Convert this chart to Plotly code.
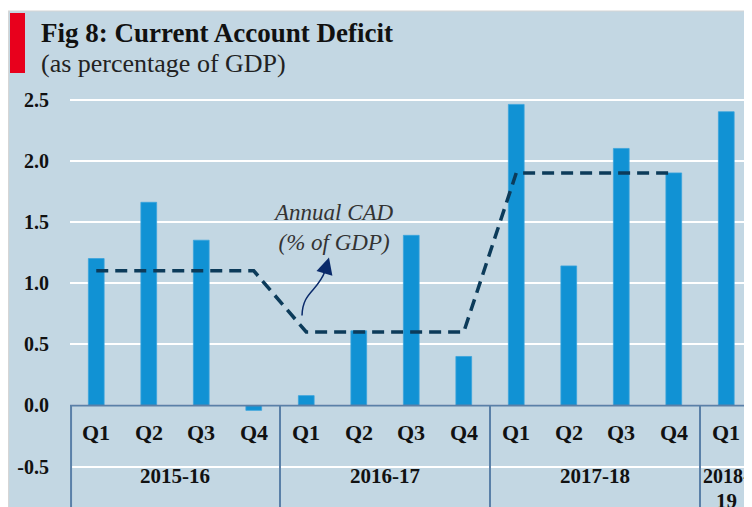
import plotly.graph_objects as go

# ---- data ----
quarters = ["Q1", "Q2", "Q3", "Q4", "Q1", "Q2", "Q3", "Q4", "Q1", "Q2", "Q3", "Q4", "Q1"]
years = ["2015-16", "2016-17", "2017-18", "2018-19"]
year_quarter_counts = [4, 4, 4, 1]
quarterly_cad = [1.20, 1.66, 1.35, -0.04, 0.08, 0.61, 1.39, 0.40, 2.46, 1.14, 2.10, 1.90, 2.40]
annual_cad = [1.1, 1.1, 1.1, 1.1, 0.6, 0.6, 0.6, 0.6, 1.9, 1.9, 1.9, 1.9]
y_ticks = [-0.5, 0.0, 0.5, 1.0, 1.5, 2.0, 2.5]

FONT = "Liberation Serif"
BG = "#c3d7e3"
BAR = "#1192d4"
LINE = "#0c3b5a"
AXIS = "#5a80a8"

OFF = 8  # page body margin
W, H = 760, 499
ML, MR, MT = 62, 16, 86
Y0, Y1 = -0.83, 2.545
X0, X1 = -0.5, 12.49

PW = W - ML - MR

def px_x(px):  # page px -> paper
    return (px - OFF - ML) / PW

def px_y(py):
    return (H - (py - OFF)) / (H - MT)

xs = list(range(len(quarters)))

fig = go.Figure()
fig.add_trace(go.Bar(
    x=xs, y=quarterly_cad, width=0.3,
    marker=dict(color=BAR, line=dict(color="#3aa3dc", width=0.8)),
    hoverinfo="y", showlegend=False,
))
fig.add_trace(go.Scatter(
    x=xs[:len(annual_cad)], y=annual_cad, mode="lines",
    line=dict(color=LINE, width=3.5, dash="12px,7px"),
    showlegend=False,
))

shapes = []
shapes.append(dict(type="rect", xref="paper", yref="paper",
                   x0=px_x(8.5), x1=1.05, y0=-0.02, y1=px_y(11),
                   fillcolor=BG, line=dict(color="#d6d6d6", width=1.2), layer="below"))
shapes.append(dict(type="rect", xref="paper", yref="paper",
                   x0=px_x(10), x1=px_x(25), y0=px_y(73), y1=px_y(13),
                   fillcolor="#e8001c", line=dict(width=0), layer="above"))
shapes.append(dict(type="line", xref="x", yref="y", x0=X0, x1=X1, y0=0, y1=0,
                   line=dict(color=AXIS, width=2), layer="above"))
bounds = [-0.5]
for c in year_quarter_counts:
    bounds.append(bounds[-1] + c)
for i, b in enumerate(bounds[:-1]):
    xb = -0.48 if i == 0 else b
    shapes.append(dict(type="line", xref="x", yref="y", x0=xb, x1=xb, y0=0, y1=Y0,
                       line=dict(color=AXIS, width=2), layer="above"))
shapes.append(dict(type="path", xref="x", yref="y",
                   path="M 3.919,0.735 C 3.93,0.93 4.22,0.93 4.36,1.10",
                   line=dict(color="#0a2a6a", width=1.5), layer="above"))

annotations = []
annotations.append(dict(text="<b>Fig 8: Current Account Deficit</b>", xref="paper", yref="paper",
                        x=px_x(39), y=px_y(33), xanchor="left", yanchor="middle", showarrow=False,
                        font=dict(family=FONT, size=27, color="#111111")))
annotations.append(dict(text="(as percentage of GDP)", xref="paper", yref="paper",
                        x=px_x(39), y=px_y(63), xanchor="left", yanchor="middle", showarrow=False,
                        font=dict(family=FONT, size=26, color="#222222")))
for i, q in enumerate(quarters):
    annotations.append(dict(text=f"<b>{q}</b>", x=i, y=-0.22, xref="x", yref="y",
                            showarrow=False, yanchor="middle",
                            font=dict(family=FONT, size=22, color="#111111")))
for j, yr in enumerate(years):
    center = (bounds[j] + bounds[j + 1]) / 2
    if year_quarter_counts[j] == 1:
        parts = [yr[:5], yr[5:]]
        annotations.append(dict(text=f"<b>{parts[0]}</b>", x=bounds[j] + 0.01, y=-0.58,
                                xref="x", yref="y", xanchor="left",
                                showarrow=False, yanchor="middle",
                                font=dict(family=FONT, size=20, color="#111111")))
        annotations.append(dict(text=f"<b>{parts[1]}</b>", x=center, y=-0.78, xref="x", yref="y",
                                showarrow=False, yanchor="middle",
                                font=dict(family=FONT, size=21, color="#111111")))
    else:
        annotations.append(dict(text=f"<b>{yr}</b>", x=center, y=-0.58, xref="x", yref="y",
                                showarrow=False, yanchor="middle",
                                font=dict(family=FONT, size=21, color="#111111")))
annotations.append(dict(text="<i>Annual CAD<br>(% of GDP)</i>", x=4.51, y=1.454, xref="x", yref="y",
                        showarrow=False, align="center",
                        font=dict(family=FONT, size=23, color="#333333")))
annotations.append(dict(text="", x=4.433, y=1.209, ax=4.36, ay=1.10, xref="x", yref="y",
                        axref="x", ayref="y", showarrow=True, arrowhead=2, arrowsize=2.2,
                        arrowwidth=1.5, arrowcolor="#0a2a6a"))

fig.update_layout(
    width=W, height=H,
    margin=dict(l=ML, r=MR, t=MT, b=0, pad=0),
    paper_bgcolor="white",
    plot_bgcolor="rgba(0,0,0,0)",
    shapes=shapes,
    annotations=annotations,
    bargap=0.7,
    xaxis=dict(range=[X0, X1], showticklabels=False, showgrid=False, zeroline=False,
               showline=False, ticks=""),
    yaxis=dict(range=[Y0, Y1], tickvals=y_ticks,
               ticktext=[f"<b>{v:.1f}</b>" for v in y_ticks],
               showgrid=True, gridcolor="white", gridwidth=2, zeroline=False,
               showline=False, ticks="", ticklabelstandoff=20,
               tickfont=dict(family=FONT, size=20, color="#111111")),
)

fig.write_html(
    "out.html",
    post_script="document.documentElement.style.overflow='hidden';document.body.style.overflow='hidden';",
)
